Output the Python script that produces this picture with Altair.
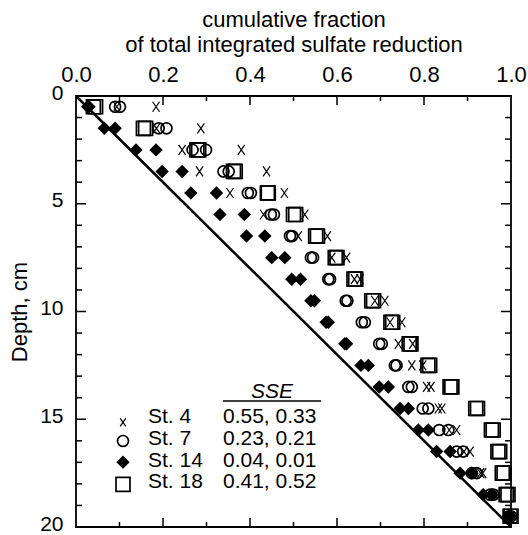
import altair as alt
import pandas as pd

# ---------------- data ----------------
depth = [0.5, 1.5, 2.5, 3.5, 4.5, 5.5, 6.5, 7.5, 8.5, 9.5,
         10.5, 11.5, 12.5, 13.5, 14.5, 15.5, 16.5, 17.5, 18.5, 19.5]

st4_core1 = [0.094, 0.185, 0.244, 0.284, 0.354, 0.431, 0.511, 0.588, 0.640, 0.687,
             0.722, 0.741, 0.772, 0.806, 0.833, 0.858, 0.892, 0.930, 0.960, 0.998]
st4_core2 = [0.184, 0.287, 0.380, 0.438, 0.479, 0.526, 0.578, 0.622, 0.653, 0.710,
             0.749, 0.774, 0.797, 0.816, 0.841, 0.875, 0.906, 0.935, 0.963, 1.000]
st7_core1 = [0.090, 0.190, 0.268, 0.339, 0.395, 0.448, 0.492, 0.540, 0.580, 0.620,
             0.657, 0.697, 0.733, 0.764, 0.797, 0.835, 0.875, 0.910, 0.952, 0.995]
st7_core2 = [0.101, 0.208, 0.299, 0.351, 0.402, 0.455, 0.497, 0.545, 0.584, 0.624,
             0.664, 0.703, 0.737, 0.772, 0.810, 0.856, 0.890, 0.921, 0.959, 1.000]
st14_core1 = [0.027, 0.065, 0.138, 0.198, 0.264, 0.331, 0.392, 0.450, 0.496, 0.540,
              0.575, 0.618, 0.655, 0.697, 0.745, 0.787, 0.829, 0.883, 0.936, 0.995]
st14_core2 = [0.030, 0.090, 0.184, 0.244, 0.323, 0.387, 0.434, 0.480, 0.516, 0.548,
              0.580, 0.622, 0.672, 0.718, 0.764, 0.810, 0.860, 0.910, 0.956, 0.998]
st18_core1 = [0.040, 0.155, 0.278, 0.362, 0.440, 0.500, 0.551, 0.596, 0.639, 0.680,
              0.724, 0.766, 0.809, 0.860, 0.919, 0.955, 0.970, 0.980, 0.989, 0.998]
st18_core2 = [0.045, 0.160, 0.282, 0.366, 0.442, 0.505, 0.555, 0.600, 0.643, 0.684,
              0.728, 0.770, 0.813, 0.864, 0.923, 0.959, 0.974, 0.984, 0.993, 1.000]

stations = ["St. 4", "St. 7", "St. 14", "St. 18"]
sse_text = ["0.55, 0.33", "0.23, 0.21", "0.04, 0.01", "0.41, 0.52"]

line_frac = [0.0, 1.0]
line_depth = [0.0, 20.0]

x_label_values = [0.0, 0.2, 0.4, 0.6, 0.8, 1.0]
y_label_values = [0, 5, 10, 15, 20]
x_ticks_major = [0.2, 0.4, 0.6, 0.8]
x_ticks_minor = [0.1, 0.3, 0.5, 0.7, 0.9]
y_ticks_major = [5, 10, 15]
y_ticks_minor = [1, 2, 3, 4, 6, 7, 8, 9, 11, 12, 13, 14, 16, 17, 18, 19]

# ---------------- tables ----------------
cores = {
    "St. 4": [st4_core1, st4_core2],
    "St. 7": [st7_core1, st7_core2],
    "St. 14": [st14_core1, st14_core2],
    "St. 18": [st18_core1, st18_core2],
}
rows = []
for st, lists in cores.items():
    for ci, vals in enumerate(lists):
        for d, v in zip(depth, vals):
            rows.append({"station": st, "core": ci + 1, "depth": d, "frac": v})
df = pd.DataFrame(rows)
line_df = pd.DataFrame({"frac": line_frac, "depth": line_depth})
legend_df = pd.DataFrame({"station": stations, "sse": sse_text})

FONT = "Liberation Sans"
W, H = 435, 431
FS = 22
LFS = 21

x_scale = alt.Scale(domain=[0, 1], nice=False, zero=False)
y_scale = alt.Scale(domain=[0, 20], nice=False, zero=False, reverse=True)

x_axis = alt.Axis(orient="top", values=x_label_values, format=".1f",
                  title=["cumulative fraction", "of total integrated sulfate reduction"],
                  ticks=False, tickSize=0, domain=False, grid=False, labelFlush=False,
                  labelFontSize=FS, labelPadding=10, labelColor="black",
                  titleFontSize=FS, titleFontWeight="normal", titleColor="black",
                  titlePadding=7, titleLineHeight=25, labelFont=FONT, titleFont=FONT)
y_axis = alt.Axis(orient="left", values=y_label_values, format="d",
                  title="Depth, cm", ticks=False, tickSize=0, domain=False, grid=False,
                  labelFlush=False, labelFontSize=21, labelPadding=13, labelColor="black",
                  labelOffset=-3,
                  titleFontSize=FS, titleFontWeight="normal", titleColor="black",
                  titlePadding=8, labelFont=FONT, titleFont=FONT)


def X():
    return alt.X("frac:Q", scale=x_scale, axis=x_axis)


def Y():
    return alt.Y("depth:Q", scale=y_scale, axis=y_axis)


layers = []

# 1:1 line
layers.append(alt.Chart(line_df).mark_line(color="black", strokeWidth=2.5).encode(x=X(), y=Y()))

# inward ticks on all four sides
xt_major = pd.DataFrame({"frac": x_ticks_major})
xt_minor = pd.DataFrame({"frac": x_ticks_minor})
yt_major = pd.DataFrame({"depth": y_ticks_major})
yt_minor = pd.DataFrame({"depth": y_ticks_minor})
for tdf, ln in [(xt_major, 9), (xt_minor, 5)]:
    layers.append(alt.Chart(tdf).mark_rule(color="black", strokeWidth=1.5).encode(
        x=X(), y=alt.value(0), y2=alt.value(ln)))
    layers.append(alt.Chart(tdf).mark_rule(color="black", strokeWidth=1.5).encode(
        x=X(), y=alt.value(H), y2=alt.value(H - ln)))
for tdf, ln in [(yt_major, 10), (yt_minor, 6)]:
    layers.append(alt.Chart(tdf).mark_rule(color="black", strokeWidth=1.5).encode(
        y=Y(), x=alt.value(0), x2=alt.value(ln)))
    layers.append(alt.Chart(tdf).mark_rule(color="black", strokeWidth=1.5).encode(
        y=Y(), x=alt.value(W), x2=alt.value(W - ln)))

XPATH = "M-0.7,-1L0.7,1M0.7,-1L-0.7,1"
styles = {
    "St. 4": dict(shape=XPATH, size=100, filled=False, strokeWidth=1.2),
    "St. 7": dict(shape="circle", size=120, filled=False, strokeWidth=1.7),
    "St. 18": dict(shape="square", size=195, filled=False, strokeWidth=1.7),
    "St. 14": dict(shape="diamond", size=180, filled=True, strokeWidth=0),
}
legend_marker_size = {"St. 4": 64, "St. 7": 120, "St. 14": 180, "St. 18": 195}

for st in ["St. 7", "St. 4", "St. 18", "St. 14"]:
    s = styles[st]
    layers.append(
        alt.Chart(df).transform_filter(alt.datum.station == st)
        .mark_point(shape=s["shape"], size=s["size"], filled=s["filled"], color="black",
                    strokeWidth=s["strokeWidth"], opacity=1)
        .encode(x=X(), y=Y())
    )

# ---------------- custom legend ----------------
row0, step = 327.3, 21.67
marker_dy = {"St. 4": -1, "St. 7": -4, "St. 14": -4.5, "St. 18": -4}
for i, st in enumerate(stations):
    s = styles[st]
    layers.append(
        alt.Chart(legend_df).transform_filter(alt.datum.station == st)
        .mark_point(shape=s["shape"], size=legend_marker_size[st], filled=s["filled"],
                    color="black", strokeWidth=s["strokeWidth"], opacity=1)
        .encode(x=alt.value(47), y=alt.value(row0 + i * step + marker_dy[st]))
    )

idx_expr = "indexof(['St. 4','St. 7','St. 14','St. 18'], datum.station)"
layers.append(
    alt.Chart(legend_df).transform_calculate(ly=f"{row0} + {step} * {idx_expr}")
    .mark_text(align="left", baseline="alphabetic", fontSize=LFS, font=FONT, color="black")
    .encode(x=alt.value(72), y=alt.Y("ly:Q", scale=None, axis=None), text="station:N")
)
layers.append(
    alt.Chart(legend_df).transform_calculate(ly=f"{row0} + {step} * {idx_expr}")
    .mark_text(align="left", baseline="alphabetic", fontSize=LFS, font=FONT, color="black")
    .encode(x=alt.value(147), y=alt.Y("ly:Q", scale=None, axis=None), text="sse:N")
)
header_df = pd.DataFrame({"h": ["SSE"]})
layers.append(
    alt.Chart(header_df)
    .mark_text(align="center", baseline="alphabetic", fontSize=LFS, font=FONT,
               fontStyle="italic", color="black")
    .encode(x=alt.value(196), y=alt.value(302), text="h:N")
)
layers.append(
    alt.Chart(header_df).mark_rule(color="black", strokeWidth=1.5)
    .encode(x=alt.value(147), x2=alt.value(245), y=alt.value(305))
)

chart = (
    alt.layer(*layers)
    .properties(width=W, height=H, autosize=alt.AutoSizeParams(type="none"),
                padding={"left": 76, "top": 96, "right": 17, "bottom": 8},
                background="white")
    .configure(font=FONT)
    .configure_view(stroke="black", strokeWidth=1.8)
)

chart.save("out.html", embed_options={"renderer": "svg", "actions": False})
